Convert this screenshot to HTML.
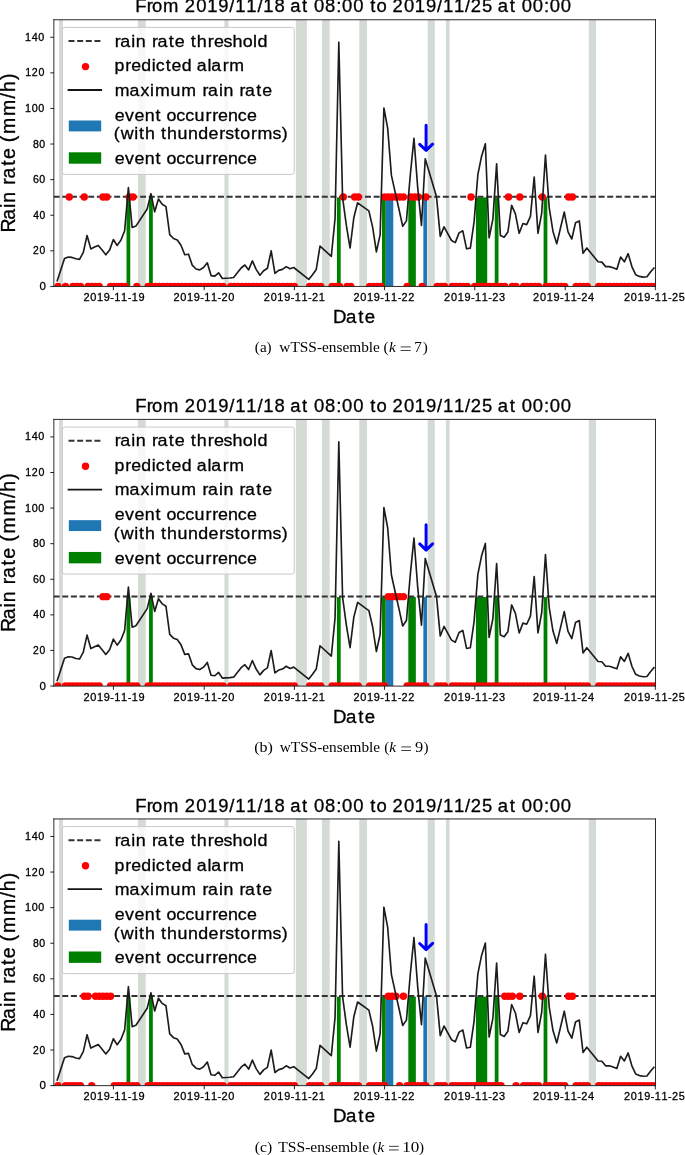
<!DOCTYPE html>
<html><head><meta charset="utf-8"><title>Rain rate figure</title>
<style>html,body{margin:0;padding:0;background:#fff;}svg{display:block;will-change:transform;}.s{stroke:#000;stroke-width:0.3px;}</style></head>
<body>
<svg width="685" height="1155" viewBox="0 0 685 1155">
<defs><clipPath id="ax"><rect x="53.85" y="19.75" width="601.65" height="266.7"/></clipPath></defs>
<g><rect width="685" height="1155" fill="#fff"/>
<g transform="translate(0,0)">
<text class="s" transform="scale(1.0090,1)" x="134.12 145.54 150.74 161.57 162.57 183.20 194.42 205.30 216.33 227.33 233.08 244.06 255.11 260.86 271.94 272.94 287.56 299.38 300.38 311.25 322.23 333.18 339.03 350.01 351.01 366.87 373.04 374.04 389.07 400.28 411.16 422.19 433.19 438.94 449.93 460.97 466.59 477.74 478.74 493.42 505.25 506.25 517.11 528.09 539.04 544.89 555.87" y="12.35" font-size="18.29" font-family="'Liberation Sans', sans-serif">From 2019/11/18 at 08:00 to 2019/11/25 at 00:00</text>
<g clip-path="url(#ax)">
<rect x="59" y="19.75" width="3.9" height="266.7" fill="#d4dbd4"/>
<rect x="137.9" y="19.75" width="7.8" height="266.7" fill="#d4dbd4"/>
<rect x="224.4" y="19.75" width="4.1" height="266.7" fill="#d4dbd4"/>
<rect x="295.8" y="19.75" width="11.1" height="266.7" fill="#d4dbd4"/>
<rect x="322" y="19.75" width="7.7" height="266.7" fill="#d4dbd4"/>
<rect x="359.3" y="19.75" width="7.7" height="266.7" fill="#d4dbd4"/>
<rect x="427.7" y="19.75" width="7.1" height="266.7" fill="#d4dbd4"/>
<rect x="445.9" y="19.75" width="3.7" height="266.7" fill="#d4dbd4"/>
<rect x="588.8" y="19.75" width="7.2" height="266.7" fill="#d4dbd4"/>
<rect x="126.51" y="197.42" width="3.76" height="88.98" fill="#008000"/>
<rect x="149.06" y="197.42" width="3.76" height="88.98" fill="#008000"/>
<rect x="336.93" y="197.42" width="3.76" height="88.98" fill="#008000"/>
<rect x="382.02" y="197.42" width="3.76" height="88.98" fill="#008000"/>
<rect x="408.32" y="197.42" width="7.51" height="88.98" fill="#008000"/>
<rect x="475.96" y="197.42" width="11.27" height="88.98" fill="#008000"/>
<rect x="494.75" y="197.42" width="3.76" height="88.98" fill="#008000"/>
<rect x="543.59" y="197.42" width="3.76" height="88.98" fill="#008000"/>
<rect x="385.78" y="197.42" width="7.51" height="88.98" fill="#1f77b4"/>
<rect x="423.35" y="197.42" width="3.76" height="88.98" fill="#1f77b4"/>
<line x1="53.6" y1="196.85" x2="655.5" y2="196.85" stroke="#333" stroke-width="2.0" stroke-dasharray="6 2.65"/>
<circle cx="57.97" cy="286.4" r="3.7" fill="#ff0000"/>
<circle cx="65.48" cy="286.4" r="3.7" fill="#ff0000"/>
<circle cx="69.24" cy="197" r="3.7" fill="#ff0000"/>
<circle cx="72.99" cy="286.4" r="3.7" fill="#ff0000"/>
<circle cx="76.75" cy="286.4" r="3.7" fill="#ff0000"/>
<circle cx="80.5" cy="286.4" r="3.7" fill="#ff0000"/>
<circle cx="84.26" cy="197" r="3.7" fill="#ff0000"/>
<circle cx="88.01" cy="286.4" r="3.7" fill="#ff0000"/>
<circle cx="91.77" cy="286.4" r="3.7" fill="#ff0000"/>
<circle cx="95.52" cy="286.4" r="3.7" fill="#ff0000"/>
<circle cx="99.27" cy="286.4" r="3.7" fill="#ff0000"/>
<circle cx="103.03" cy="197" r="3.7" fill="#ff0000"/>
<circle cx="106.78" cy="197" r="3.7" fill="#ff0000"/>
<circle cx="110.54" cy="286.4" r="3.7" fill="#ff0000"/>
<circle cx="114.29" cy="286.4" r="3.7" fill="#ff0000"/>
<circle cx="118.05" cy="286.4" r="3.7" fill="#ff0000"/>
<circle cx="121.8" cy="286.4" r="3.7" fill="#ff0000"/>
<circle cx="125.56" cy="286.4" r="3.7" fill="#ff0000"/>
<circle cx="129.31" cy="197" r="3.7" fill="#ff0000"/>
<circle cx="133.06" cy="197" r="3.7" fill="#ff0000"/>
<circle cx="136.82" cy="286.4" r="3.7" fill="#ff0000"/>
<circle cx="148.08" cy="286.4" r="3.7" fill="#ff0000"/>
<circle cx="151.84" cy="286.4" r="3.7" fill="#ff0000"/>
<circle cx="155.59" cy="286.4" r="3.7" fill="#ff0000"/>
<circle cx="159.35" cy="286.4" r="3.7" fill="#ff0000"/>
<circle cx="163.1" cy="286.4" r="3.7" fill="#ff0000"/>
<circle cx="166.86" cy="286.4" r="3.7" fill="#ff0000"/>
<circle cx="170.61" cy="286.4" r="3.7" fill="#ff0000"/>
<circle cx="174.36" cy="286.4" r="3.7" fill="#ff0000"/>
<circle cx="178.12" cy="286.4" r="3.7" fill="#ff0000"/>
<circle cx="181.87" cy="286.4" r="3.7" fill="#ff0000"/>
<circle cx="185.63" cy="286.4" r="3.7" fill="#ff0000"/>
<circle cx="189.38" cy="286.4" r="3.7" fill="#ff0000"/>
<circle cx="193.14" cy="286.4" r="3.7" fill="#ff0000"/>
<circle cx="196.89" cy="286.4" r="3.7" fill="#ff0000"/>
<circle cx="200.65" cy="286.4" r="3.7" fill="#ff0000"/>
<circle cx="204.4" cy="286.4" r="3.7" fill="#ff0000"/>
<circle cx="208.15" cy="286.4" r="3.7" fill="#ff0000"/>
<circle cx="211.91" cy="286.4" r="3.7" fill="#ff0000"/>
<circle cx="215.66" cy="286.4" r="3.7" fill="#ff0000"/>
<circle cx="219.42" cy="286.4" r="3.7" fill="#ff0000"/>
<circle cx="223.17" cy="286.4" r="3.7" fill="#ff0000"/>
<circle cx="230.68" cy="286.4" r="3.7" fill="#ff0000"/>
<circle cx="234.44" cy="286.4" r="3.7" fill="#ff0000"/>
<circle cx="238.19" cy="286.4" r="3.7" fill="#ff0000"/>
<circle cx="241.95" cy="286.4" r="3.7" fill="#ff0000"/>
<circle cx="245.7" cy="286.4" r="3.7" fill="#ff0000"/>
<circle cx="249.45" cy="286.4" r="3.7" fill="#ff0000"/>
<circle cx="253.21" cy="286.4" r="3.7" fill="#ff0000"/>
<circle cx="256.96" cy="286.4" r="3.7" fill="#ff0000"/>
<circle cx="260.72" cy="286.4" r="3.7" fill="#ff0000"/>
<circle cx="264.47" cy="286.4" r="3.7" fill="#ff0000"/>
<circle cx="268.23" cy="286.4" r="3.7" fill="#ff0000"/>
<circle cx="271.98" cy="286.4" r="3.7" fill="#ff0000"/>
<circle cx="275.74" cy="286.4" r="3.7" fill="#ff0000"/>
<circle cx="279.49" cy="286.4" r="3.7" fill="#ff0000"/>
<circle cx="283.24" cy="286.4" r="3.7" fill="#ff0000"/>
<circle cx="287" cy="286.4" r="3.7" fill="#ff0000"/>
<circle cx="290.75" cy="286.4" r="3.7" fill="#ff0000"/>
<circle cx="294.51" cy="286.4" r="3.7" fill="#ff0000"/>
<circle cx="309.53" cy="286.4" r="3.7" fill="#ff0000"/>
<circle cx="313.28" cy="286.4" r="3.7" fill="#ff0000"/>
<circle cx="317.03" cy="286.4" r="3.7" fill="#ff0000"/>
<circle cx="320.79" cy="286.4" r="3.7" fill="#ff0000"/>
<circle cx="332.05" cy="286.4" r="3.7" fill="#ff0000"/>
<circle cx="335.81" cy="286.4" r="3.7" fill="#ff0000"/>
<circle cx="339.56" cy="286.4" r="3.7" fill="#ff0000"/>
<circle cx="343.32" cy="197" r="3.7" fill="#ff0000"/>
<circle cx="347.07" cy="286.4" r="3.7" fill="#ff0000"/>
<circle cx="350.83" cy="286.4" r="3.7" fill="#ff0000"/>
<circle cx="354.58" cy="197" r="3.7" fill="#ff0000"/>
<circle cx="358.33" cy="197" r="3.7" fill="#ff0000"/>
<circle cx="369.6" cy="286.4" r="3.7" fill="#ff0000"/>
<circle cx="373.35" cy="286.4" r="3.7" fill="#ff0000"/>
<circle cx="377.11" cy="286.4" r="3.7" fill="#ff0000"/>
<circle cx="380.86" cy="286.4" r="3.7" fill="#ff0000"/>
<circle cx="384.62" cy="197" r="3.7" fill="#ff0000"/>
<circle cx="388.37" cy="197" r="3.7" fill="#ff0000"/>
<circle cx="392.12" cy="197" r="3.7" fill="#ff0000"/>
<circle cx="395.88" cy="197" r="3.7" fill="#ff0000"/>
<circle cx="399.63" cy="197" r="3.7" fill="#ff0000"/>
<circle cx="403.39" cy="197" r="3.7" fill="#ff0000"/>
<circle cx="407.14" cy="286.4" r="3.7" fill="#ff0000"/>
<circle cx="410.9" cy="197" r="3.7" fill="#ff0000"/>
<circle cx="414.65" cy="197" r="3.7" fill="#ff0000"/>
<circle cx="418.41" cy="197" r="3.7" fill="#ff0000"/>
<circle cx="422.16" cy="286.4" r="3.7" fill="#ff0000"/>
<circle cx="425.92" cy="197" r="3.7" fill="#ff0000"/>
<circle cx="437.18" cy="286.4" r="3.7" fill="#ff0000"/>
<circle cx="440.93" cy="286.4" r="3.7" fill="#ff0000"/>
<circle cx="444.69" cy="286.4" r="3.7" fill="#ff0000"/>
<circle cx="452.2" cy="286.4" r="3.7" fill="#ff0000"/>
<circle cx="455.95" cy="286.4" r="3.7" fill="#ff0000"/>
<circle cx="459.71" cy="286.4" r="3.7" fill="#ff0000"/>
<circle cx="463.46" cy="286.4" r="3.7" fill="#ff0000"/>
<circle cx="467.22" cy="286.4" r="3.7" fill="#ff0000"/>
<circle cx="470.97" cy="197" r="3.7" fill="#ff0000"/>
<circle cx="474.72" cy="286.4" r="3.7" fill="#ff0000"/>
<circle cx="478.48" cy="286.4" r="3.7" fill="#ff0000"/>
<circle cx="482.23" cy="286.4" r="3.7" fill="#ff0000"/>
<circle cx="485.99" cy="286.4" r="3.7" fill="#ff0000"/>
<circle cx="489.74" cy="286.4" r="3.7" fill="#ff0000"/>
<circle cx="493.5" cy="286.4" r="3.7" fill="#ff0000"/>
<circle cx="497.25" cy="286.4" r="3.7" fill="#ff0000"/>
<circle cx="501.01" cy="286.4" r="3.7" fill="#ff0000"/>
<circle cx="504.76" cy="286.4" r="3.7" fill="#ff0000"/>
<circle cx="508.51" cy="197" r="3.7" fill="#ff0000"/>
<circle cx="512.27" cy="286.4" r="3.7" fill="#ff0000"/>
<circle cx="516.02" cy="286.4" r="3.7" fill="#ff0000"/>
<circle cx="519.78" cy="197" r="3.7" fill="#ff0000"/>
<circle cx="523.53" cy="286.4" r="3.7" fill="#ff0000"/>
<circle cx="527.29" cy="286.4" r="3.7" fill="#ff0000"/>
<circle cx="531.04" cy="286.4" r="3.7" fill="#ff0000"/>
<circle cx="534.8" cy="286.4" r="3.7" fill="#ff0000"/>
<circle cx="538.55" cy="286.4" r="3.7" fill="#ff0000"/>
<circle cx="542.31" cy="197" r="3.7" fill="#ff0000"/>
<circle cx="546.06" cy="286.4" r="3.7" fill="#ff0000"/>
<circle cx="549.81" cy="286.4" r="3.7" fill="#ff0000"/>
<circle cx="553.57" cy="286.4" r="3.7" fill="#ff0000"/>
<circle cx="557.32" cy="286.4" r="3.7" fill="#ff0000"/>
<circle cx="561.08" cy="286.4" r="3.7" fill="#ff0000"/>
<circle cx="564.83" cy="286.4" r="3.7" fill="#ff0000"/>
<circle cx="568.59" cy="197" r="3.7" fill="#ff0000"/>
<circle cx="572.34" cy="197" r="3.7" fill="#ff0000"/>
<circle cx="576.1" cy="286.4" r="3.7" fill="#ff0000"/>
<circle cx="579.85" cy="286.4" r="3.7" fill="#ff0000"/>
<circle cx="583.6" cy="286.4" r="3.7" fill="#ff0000"/>
<circle cx="587.36" cy="286.4" r="3.7" fill="#ff0000"/>
<circle cx="598.62" cy="286.4" r="3.7" fill="#ff0000"/>
<circle cx="602.38" cy="286.4" r="3.7" fill="#ff0000"/>
<circle cx="606.13" cy="286.4" r="3.7" fill="#ff0000"/>
<circle cx="609.89" cy="286.4" r="3.7" fill="#ff0000"/>
<circle cx="613.64" cy="286.4" r="3.7" fill="#ff0000"/>
<circle cx="617.4" cy="286.4" r="3.7" fill="#ff0000"/>
<circle cx="621.15" cy="286.4" r="3.7" fill="#ff0000"/>
<circle cx="624.9" cy="286.4" r="3.7" fill="#ff0000"/>
<circle cx="628.66" cy="286.4" r="3.7" fill="#ff0000"/>
<circle cx="632.41" cy="286.4" r="3.7" fill="#ff0000"/>
<circle cx="636.17" cy="286.4" r="3.7" fill="#ff0000"/>
<circle cx="639.92" cy="286.4" r="3.7" fill="#ff0000"/>
<circle cx="643.68" cy="286.4" r="3.7" fill="#ff0000"/>
<circle cx="647.43" cy="286.4" r="3.7" fill="#ff0000"/>
<circle cx="651.19" cy="286.4" r="3.7" fill="#ff0000"/>
<circle cx="654.94" cy="286.4" r="3.7" fill="#ff0000"/>
<polyline points="57,281.6 64.51,258.6 68.27,257.1 72.03,257.4 75.78,258.8 79.54,259.4 83.3,252.4 87.06,235.5 90.81,248.9 94.57,247.1 98.33,245.4 102.09,250.1 105.84,254.8 109.6,250.1 113.36,239.5 117.12,245.5 120.88,240.3 124.63,230.8 128.39,187.5 132.15,227.5 135.91,226.1 147.18,209 150.94,193.7 154.69,211.8 158.45,199 162.21,204.2 165.97,206.6 169.72,234.7 173.48,238.5 177.24,239.9 181,245.2 184.75,254.7 188.51,254.2 192.27,265.2 196.03,269 199.78,269.9 203.54,267.5 207.3,262.8 211.06,275.6 214.81,276.1 218.57,272.8 222.33,278.5 229.84,278 233.6,277.5 237.36,272.8 241.12,268 244.87,265 248.63,269.9 252.39,260.9 256.14,269.4 259.9,275.2 263.66,270.7 267.42,268.2 271.18,250.9 274.93,273.3 278.69,270.4 282.45,269.4 286.2,266.6 289.96,268.8 293.72,267.5 308.75,279.4 312.51,274.7 316.26,269.4 320.02,246.1 331.3,256.4 335.05,218.5 338.81,42.2 342.57,197.5 346.32,225.2 350.08,248 353.84,217.5 357.6,202.8 368.87,210.9 372.63,227.1 376.38,251.9 380.14,234.6 383.9,108 387.66,128.1 391.42,175.4 395.17,192.4 398.93,209 402.69,226.3 406.44,220.9 410.2,176 413.96,138.4 417.72,187.9 421.47,225.5 425.23,158.8 436.5,196.8 440.26,236.4 444.02,226.8 451.53,240.5 455.29,242.6 459.05,232.9 462.81,230.8 466.56,248.8 470.32,248.1 474.08,221.9 477.84,174.7 481.59,156.2 485.35,143.8 489.11,237.8 492.87,219.1 496.62,163.9 500.38,235.4 504.14,237.2 507.9,232 511.65,205.3 515.41,213.8 519.17,233.3 522.93,223.5 526.68,224.6 530.44,216.4 534.2,177 537.96,233.3 541.71,213.1 545.47,155 549.23,207.9 552.99,231.4 556.75,243.7 560.5,228 564.26,212 568.02,231.8 571.77,239 575.53,222.8 579.29,220.9 583.05,253.3 586.8,248 598.08,261.8 601.84,262.1 605.59,266.6 609.35,266.6 613.11,267.8 616.87,269.2 620.62,257.1 624.38,261.8 628.14,253.7 631.89,266.6 635.65,274.7 639.41,276.4 643.17,277.1 646.92,276.8 650.68,271.8 654.44,267.5" fill="none" stroke="#1c1c1c" stroke-width="1.65" stroke-linejoin="round"/>
<path d="M426.1,125.2 V150 M419.7,144.3 L426.1,150.4 L432.6,144.2" fill="none" stroke="#0000ff" stroke-width="3.0" stroke-linecap="round" stroke-linejoin="round"/>
</g>
<path d="M53.85,19.25 V286.95 M655.5,19.25 V286.95 M53.35,19.75 H656 M53.35,286.45 H656" fill="none" stroke="#2b2b2b" stroke-width="1.0"/>
<line x1="50.3" y1="286.4" x2="53.85" y2="286.4" stroke="#000" stroke-width="0.87"/>
<text class="s" transform="scale(1.0041,1)" x="39.29" y="289.95" font-size="11.46" font-family="'Liberation Sans', sans-serif">0</text>
<line x1="50.3" y1="250.81" x2="53.85" y2="250.81" stroke="#000" stroke-width="0.87"/>
<text class="s" transform="scale(0.9862,1)" x="33.40 39.97" y="254.36" font-size="10.47" font-family="'Liberation Sans', sans-serif">20</text>
<line x1="50.3" y1="215.22" x2="53.85" y2="215.22" stroke="#000" stroke-width="0.87"/>
<text class="s" transform="scale(1.0041,1)" x="33.13 39.32" y="218.77" font-size="10.25" font-family="'Liberation Sans', sans-serif">40</text>
<line x1="50.3" y1="179.62" x2="53.85" y2="179.62" stroke="#000" stroke-width="0.87"/>
<text class="s" transform="scale(1.0213,1)" x="32.31 38.51" y="183.17" font-size="10.44" font-family="'Liberation Sans', sans-serif">60</text>
<line x1="50.3" y1="144.03" x2="53.85" y2="144.03" stroke="#000" stroke-width="0.87"/>
<text class="s" transform="scale(1.0094,1)" x="32.75 39.01" y="147.58" font-size="10.42" font-family="'Liberation Sans', sans-serif">80</text>
<line x1="50.3" y1="108.44" x2="53.85" y2="108.44" stroke="#000" stroke-width="0.87"/>
<text class="s" transform="scale(0.9900,1)" x="25.36 32.09 38.77" y="111.99" font-size="10.91" font-family="'Liberation Sans', sans-serif">100</text>
<line x1="50.3" y1="72.85" x2="53.85" y2="72.85" stroke="#000" stroke-width="0.87"/>
<text class="s" transform="scale(0.9776,1)" x="25.72 32.40 39.30" y="76.40" font-size="10.91" font-family="'Liberation Sans', sans-serif">120</text>
<line x1="50.3" y1="37.26" x2="53.85" y2="37.26" stroke="#000" stroke-width="0.87"/>
<text class="s" transform="scale(0.9903,1)" x="25.35 32.08 38.75" y="40.81" font-size="10.91" font-family="'Liberation Sans', sans-serif">140</text>
<line x1="113.4" y1="286.45" x2="113.4" y2="290.2" stroke="#000" stroke-width="0.87"/>
<text class="s" transform="scale(0.9374,1)" x="89.06 96.40 103.52 110.74 117.72 121.98 129.16 136.17 140.43 147.64" y="301.10" font-size="11.75" font-family="'Liberation Sans', sans-serif">2019-11-19</text>
<line x1="204.2" y1="286.45" x2="204.2" y2="290.2" stroke="#000" stroke-width="0.87"/>
<text class="s" transform="scale(0.9347,1)" x="185.52 192.87 200.02 207.26 214.26 218.53 225.74 232.76 236.94 244.30" y="301.10" font-size="11.75" font-family="'Liberation Sans', sans-serif">2019-11-20</text>
<line x1="294.4" y1="286.45" x2="294.4" y2="290.2" stroke="#000" stroke-width="0.87"/>
<text class="s" transform="scale(0.9300,1)" x="283.68 291.07 298.26 305.53 312.56 316.86 324.11 331.16 335.37 342.70" y="301.10" font-size="11.75" font-family="'Liberation Sans', sans-serif">2019-11-21</text>
<line x1="384.6" y1="286.45" x2="384.6" y2="290.2" stroke="#000" stroke-width="0.87"/>
<text class="s" transform="scale(0.9307,1)" x="379.82 387.21 394.39 401.66 408.68 412.98 420.22 427.26 431.47 438.71" y="301.10" font-size="11.75" font-family="'Liberation Sans', sans-serif">2019-11-22</text>
<line x1="474.8" y1="286.45" x2="474.8" y2="290.2" stroke="#000" stroke-width="0.87"/>
<text class="s" transform="scale(0.9303,1)" x="477.40 484.79 491.97 499.24 506.26 510.57 517.81 524.86 529.07 536.48" y="301.10" font-size="11.75" font-family="'Liberation Sans', sans-serif">2019-11-23</text>
<line x1="565.2" y1="286.45" x2="565.2" y2="290.2" stroke="#000" stroke-width="0.87"/>
<text class="s" transform="scale(0.9348,1)" x="570.30 577.66 584.81 592.04 599.04 603.31 610.52 617.54 621.73 629.08" y="301.10" font-size="11.75" font-family="'Liberation Sans', sans-serif">2019-11-24</text>
<line x1="655.3" y1="286.45" x2="655.3" y2="290.2" stroke="#000" stroke-width="0.87"/>
<text class="s" transform="scale(0.9285,1)" x="671.99 679.40 686.60 693.88 700.91 705.23 712.48 719.54 723.76 731.13" y="301.10" font-size="11.75" font-family="'Liberation Sans', sans-serif">2019-11-25</text>
<text class="s" transform="scale(1.0005,1)" x="332.81 345.95 358.10 364.53" y="323.00" font-size="18.67" font-family="'Liberation Sans', sans-serif">Date</text>
<text class="s" transform="translate(14.8,230.3) rotate(-90) scale(1.0037,1)" x="-2.13 10.55 22.31 27.50 28.50 45.48 51.71 64.32 70.99 71.99 87.77 96.03 113.99 131.43 137.69 149.78" y="0.00" font-size="19.43" font-family="'Liberation Sans', sans-serif">Rain rate (mm/h)</text>
<rect x="62.4" y="27.4" width="231.8" height="147" rx="2" fill="#fff" fill-opacity="0.8" stroke="#c9c9c9" stroke-width="1"/>
<line x1="68.5" y1="41.1" x2="100.5" y2="41.1" stroke="#333" stroke-width="2.0" stroke-dasharray="6 2.65"/>
<circle cx="85.5" cy="66.6" r="3.7" fill="#ff0000"/>
<line x1="67.6" y1="90.0" x2="102.1" y2="90.0" stroke="#151515" stroke-width="1.8"/>
<rect x="68.8" y="120.5" width="32.4" height="10.9" fill="#1f77b4"/>
<rect x="68.8" y="152.3" width="32.4" height="11.4" fill="#008000"/>
<text class="s" transform="scale(1.0338,1)" x="110.96 116.31 126.94 131.36 132.36 146.99 152.33 163.35 169.06 170.06 184.53 190.37 200.95 206.95 216.25 224.89 234.84 244.85 249.16" y="46.60" font-size="17.35" font-family="'Liberation Sans', sans-serif">rain rate threshold</text>
<text class="s" transform="scale(1.0267,1)" x="111.42 121.92 127.95 137.48 147.76 151.79 161.40 167.14 177.02 178.02 191.57 202.20 205.83 216.87 223.39" y="71.50" font-size="17.26" font-family="'Liberation Sans', sans-serif">predicted alarm</text>
<text class="s" transform="scale(1.0310,1)" x="111.21 125.55 136.19 145.54 150.27 165.36 175.84 176.84 196.46 201.78 212.35 216.75 217.75 232.30 237.61 248.57 254.26" y="95.80" font-size="17.21" font-family="'Liberation Sans', sans-serif">maximum rain rate</text>
<text class="s" transform="scale(1.0374,1)" x="110.57 120.54 129.60 139.45 149.86 150.86 160.44 169.89 178.56 187.57 198.05 204.53 210.17 219.68 229.27 238.20" y="120.60" font-size="17.18" font-family="'Liberation Sans', sans-serif">event occurrence</text>
<text class="s" transform="scale(1.0354,1)" x="109.98 116.62 129.60 134.37 140.14 141.14 155.62 161.40 171.38 181.47 191.39 201.39 211.69 217.45 226.42 232.02 242.31 248.72 263.21 272.17" y="139.40" font-size="17.20" font-family="'Liberation Sans', sans-serif">(with thunderstorms)</text>
<text class="s" transform="scale(1.0374,1)" x="110.57 120.54 129.60 139.45 149.86 150.86 160.44 169.89 178.56 187.57 198.05 204.53 210.17 219.68 229.27 238.20" y="164.00" font-size="17.18" font-family="'Liberation Sans', sans-serif">event occurrence</text>
</g>
<text x="254.83" y="352.45" font-size="13.6" textLength="16.83" lengthAdjust="spacingAndGlyphs" font-family="'Liberation Serif', serif">(a)</text>
<text x="279.39" y="352.45" font-size="13.6" textLength="100.55" lengthAdjust="spacingAndGlyphs" font-family="'Liberation Serif', serif">wTSS-ensemble</text>
<text x="383.53" y="352.45" font-size="13.6" textLength="5.06" lengthAdjust="spacingAndGlyphs" font-family="'Liberation Serif', serif">(</text>
<text x="388.96" y="352.45" font-size="13.6" textLength="6.82" lengthAdjust="spacingAndGlyphs" font-family="'Liberation Serif', serif" font-style="italic">k</text>
<line x1="400.59999999999997" x2="410.7" y1="346.9" y2="346.9" stroke="#000" stroke-width="0.75"/>
<line x1="400.59999999999997" x2="410.7" y1="350.5" y2="350.5" stroke="#000" stroke-width="0.75"/>
<text x="414.31" y="352.45" font-size="13.6" textLength="7.53" lengthAdjust="spacingAndGlyphs" font-family="'Liberation Serif', serif">7</text>
<text x="422.71" y="352.45" font-size="13.6" textLength="5.06" lengthAdjust="spacingAndGlyphs" font-family="'Liberation Serif', serif">)</text>
<g transform="translate(0,399.65)">
<text class="s" transform="scale(1.0090,1)" x="134.12 145.54 150.74 161.57 162.57 183.20 194.42 205.30 216.33 227.33 233.08 244.06 255.11 260.86 271.94 272.94 287.56 299.38 300.38 311.25 322.23 333.18 339.03 350.01 351.01 366.87 373.04 374.04 389.07 400.28 411.16 422.19 433.19 438.94 449.93 460.97 466.59 477.74 478.74 493.42 505.25 506.25 517.11 528.09 539.04 544.89 555.87" y="12.35" font-size="18.29" font-family="'Liberation Sans', sans-serif">From 2019/11/18 at 08:00 to 2019/11/25 at 00:00</text>
<g clip-path="url(#ax)">
<rect x="59" y="19.75" width="3.9" height="266.7" fill="#d4dbd4"/>
<rect x="137.9" y="19.75" width="7.8" height="266.7" fill="#d4dbd4"/>
<rect x="224.4" y="19.75" width="4.1" height="266.7" fill="#d4dbd4"/>
<rect x="295.8" y="19.75" width="11.1" height="266.7" fill="#d4dbd4"/>
<rect x="322" y="19.75" width="7.7" height="266.7" fill="#d4dbd4"/>
<rect x="359.3" y="19.75" width="7.7" height="266.7" fill="#d4dbd4"/>
<rect x="427.7" y="19.75" width="7.1" height="266.7" fill="#d4dbd4"/>
<rect x="445.9" y="19.75" width="3.7" height="266.7" fill="#d4dbd4"/>
<rect x="588.8" y="19.75" width="7.2" height="266.7" fill="#d4dbd4"/>
<rect x="126.51" y="197.42" width="3.76" height="88.98" fill="#008000"/>
<rect x="149.06" y="197.42" width="3.76" height="88.98" fill="#008000"/>
<rect x="336.93" y="197.42" width="3.76" height="88.98" fill="#008000"/>
<rect x="382.02" y="197.42" width="3.76" height="88.98" fill="#008000"/>
<rect x="408.32" y="197.42" width="7.51" height="88.98" fill="#008000"/>
<rect x="475.96" y="197.42" width="11.27" height="88.98" fill="#008000"/>
<rect x="494.75" y="197.42" width="3.76" height="88.98" fill="#008000"/>
<rect x="543.59" y="197.42" width="3.76" height="88.98" fill="#008000"/>
<rect x="385.78" y="197.42" width="7.51" height="88.98" fill="#1f77b4"/>
<rect x="423.35" y="197.42" width="3.76" height="88.98" fill="#1f77b4"/>
<line x1="53.6" y1="196.85" x2="655.5" y2="196.85" stroke="#333" stroke-width="2.0" stroke-dasharray="6 2.65"/>
<circle cx="57.97" cy="286.4" r="3.7" fill="#ff0000"/>
<circle cx="65.48" cy="286.4" r="3.7" fill="#ff0000"/>
<circle cx="69.24" cy="286.4" r="3.7" fill="#ff0000"/>
<circle cx="72.99" cy="286.4" r="3.7" fill="#ff0000"/>
<circle cx="76.75" cy="286.4" r="3.7" fill="#ff0000"/>
<circle cx="80.5" cy="286.4" r="3.7" fill="#ff0000"/>
<circle cx="84.26" cy="286.4" r="3.7" fill="#ff0000"/>
<circle cx="88.01" cy="286.4" r="3.7" fill="#ff0000"/>
<circle cx="91.77" cy="286.4" r="3.7" fill="#ff0000"/>
<circle cx="95.52" cy="286.4" r="3.7" fill="#ff0000"/>
<circle cx="99.27" cy="286.4" r="3.7" fill="#ff0000"/>
<circle cx="103.03" cy="197" r="3.7" fill="#ff0000"/>
<circle cx="106.78" cy="197" r="3.7" fill="#ff0000"/>
<circle cx="110.54" cy="286.4" r="3.7" fill="#ff0000"/>
<circle cx="114.29" cy="286.4" r="3.7" fill="#ff0000"/>
<circle cx="118.05" cy="286.4" r="3.7" fill="#ff0000"/>
<circle cx="121.8" cy="286.4" r="3.7" fill="#ff0000"/>
<circle cx="125.56" cy="286.4" r="3.7" fill="#ff0000"/>
<circle cx="129.31" cy="286.4" r="3.7" fill="#ff0000"/>
<circle cx="133.06" cy="286.4" r="3.7" fill="#ff0000"/>
<circle cx="136.82" cy="286.4" r="3.7" fill="#ff0000"/>
<circle cx="148.08" cy="286.4" r="3.7" fill="#ff0000"/>
<circle cx="151.84" cy="286.4" r="3.7" fill="#ff0000"/>
<circle cx="155.59" cy="286.4" r="3.7" fill="#ff0000"/>
<circle cx="159.35" cy="286.4" r="3.7" fill="#ff0000"/>
<circle cx="163.1" cy="286.4" r="3.7" fill="#ff0000"/>
<circle cx="166.86" cy="286.4" r="3.7" fill="#ff0000"/>
<circle cx="170.61" cy="286.4" r="3.7" fill="#ff0000"/>
<circle cx="174.36" cy="286.4" r="3.7" fill="#ff0000"/>
<circle cx="178.12" cy="286.4" r="3.7" fill="#ff0000"/>
<circle cx="181.87" cy="286.4" r="3.7" fill="#ff0000"/>
<circle cx="185.63" cy="286.4" r="3.7" fill="#ff0000"/>
<circle cx="189.38" cy="286.4" r="3.7" fill="#ff0000"/>
<circle cx="193.14" cy="286.4" r="3.7" fill="#ff0000"/>
<circle cx="196.89" cy="286.4" r="3.7" fill="#ff0000"/>
<circle cx="200.65" cy="286.4" r="3.7" fill="#ff0000"/>
<circle cx="204.4" cy="286.4" r="3.7" fill="#ff0000"/>
<circle cx="208.15" cy="286.4" r="3.7" fill="#ff0000"/>
<circle cx="211.91" cy="286.4" r="3.7" fill="#ff0000"/>
<circle cx="215.66" cy="286.4" r="3.7" fill="#ff0000"/>
<circle cx="219.42" cy="286.4" r="3.7" fill="#ff0000"/>
<circle cx="223.17" cy="286.4" r="3.7" fill="#ff0000"/>
<circle cx="230.68" cy="286.4" r="3.7" fill="#ff0000"/>
<circle cx="234.44" cy="286.4" r="3.7" fill="#ff0000"/>
<circle cx="238.19" cy="286.4" r="3.7" fill="#ff0000"/>
<circle cx="241.95" cy="286.4" r="3.7" fill="#ff0000"/>
<circle cx="245.7" cy="286.4" r="3.7" fill="#ff0000"/>
<circle cx="249.45" cy="286.4" r="3.7" fill="#ff0000"/>
<circle cx="253.21" cy="286.4" r="3.7" fill="#ff0000"/>
<circle cx="256.96" cy="286.4" r="3.7" fill="#ff0000"/>
<circle cx="260.72" cy="286.4" r="3.7" fill="#ff0000"/>
<circle cx="264.47" cy="286.4" r="3.7" fill="#ff0000"/>
<circle cx="268.23" cy="286.4" r="3.7" fill="#ff0000"/>
<circle cx="271.98" cy="286.4" r="3.7" fill="#ff0000"/>
<circle cx="275.74" cy="286.4" r="3.7" fill="#ff0000"/>
<circle cx="279.49" cy="286.4" r="3.7" fill="#ff0000"/>
<circle cx="283.24" cy="286.4" r="3.7" fill="#ff0000"/>
<circle cx="287" cy="286.4" r="3.7" fill="#ff0000"/>
<circle cx="290.75" cy="286.4" r="3.7" fill="#ff0000"/>
<circle cx="294.51" cy="286.4" r="3.7" fill="#ff0000"/>
<circle cx="309.53" cy="286.4" r="3.7" fill="#ff0000"/>
<circle cx="313.28" cy="286.4" r="3.7" fill="#ff0000"/>
<circle cx="317.03" cy="286.4" r="3.7" fill="#ff0000"/>
<circle cx="320.79" cy="286.4" r="3.7" fill="#ff0000"/>
<circle cx="332.05" cy="286.4" r="3.7" fill="#ff0000"/>
<circle cx="335.81" cy="286.4" r="3.7" fill="#ff0000"/>
<circle cx="339.56" cy="286.4" r="3.7" fill="#ff0000"/>
<circle cx="343.32" cy="286.4" r="3.7" fill="#ff0000"/>
<circle cx="347.07" cy="286.4" r="3.7" fill="#ff0000"/>
<circle cx="350.83" cy="286.4" r="3.7" fill="#ff0000"/>
<circle cx="354.58" cy="286.4" r="3.7" fill="#ff0000"/>
<circle cx="358.33" cy="286.4" r="3.7" fill="#ff0000"/>
<circle cx="369.6" cy="286.4" r="3.7" fill="#ff0000"/>
<circle cx="373.35" cy="286.4" r="3.7" fill="#ff0000"/>
<circle cx="377.11" cy="286.4" r="3.7" fill="#ff0000"/>
<circle cx="380.86" cy="286.4" r="3.7" fill="#ff0000"/>
<circle cx="384.62" cy="286.4" r="3.7" fill="#ff0000"/>
<circle cx="388.37" cy="197" r="3.7" fill="#ff0000"/>
<circle cx="392.12" cy="197" r="3.7" fill="#ff0000"/>
<circle cx="395.88" cy="197" r="3.7" fill="#ff0000"/>
<circle cx="399.63" cy="197" r="3.7" fill="#ff0000"/>
<circle cx="403.39" cy="197" r="3.7" fill="#ff0000"/>
<circle cx="407.14" cy="286.4" r="3.7" fill="#ff0000"/>
<circle cx="410.9" cy="286.4" r="3.7" fill="#ff0000"/>
<circle cx="414.65" cy="286.4" r="3.7" fill="#ff0000"/>
<circle cx="418.41" cy="286.4" r="3.7" fill="#ff0000"/>
<circle cx="422.16" cy="286.4" r="3.7" fill="#ff0000"/>
<circle cx="425.92" cy="286.4" r="3.7" fill="#ff0000"/>
<circle cx="437.18" cy="286.4" r="3.7" fill="#ff0000"/>
<circle cx="440.93" cy="286.4" r="3.7" fill="#ff0000"/>
<circle cx="444.69" cy="286.4" r="3.7" fill="#ff0000"/>
<circle cx="452.2" cy="286.4" r="3.7" fill="#ff0000"/>
<circle cx="455.95" cy="286.4" r="3.7" fill="#ff0000"/>
<circle cx="459.71" cy="286.4" r="3.7" fill="#ff0000"/>
<circle cx="463.46" cy="286.4" r="3.7" fill="#ff0000"/>
<circle cx="467.22" cy="286.4" r="3.7" fill="#ff0000"/>
<circle cx="470.97" cy="286.4" r="3.7" fill="#ff0000"/>
<circle cx="474.72" cy="286.4" r="3.7" fill="#ff0000"/>
<circle cx="478.48" cy="286.4" r="3.7" fill="#ff0000"/>
<circle cx="482.23" cy="286.4" r="3.7" fill="#ff0000"/>
<circle cx="485.99" cy="286.4" r="3.7" fill="#ff0000"/>
<circle cx="489.74" cy="286.4" r="3.7" fill="#ff0000"/>
<circle cx="493.5" cy="286.4" r="3.7" fill="#ff0000"/>
<circle cx="497.25" cy="286.4" r="3.7" fill="#ff0000"/>
<circle cx="501.01" cy="286.4" r="3.7" fill="#ff0000"/>
<circle cx="504.76" cy="286.4" r="3.7" fill="#ff0000"/>
<circle cx="508.51" cy="286.4" r="3.7" fill="#ff0000"/>
<circle cx="512.27" cy="286.4" r="3.7" fill="#ff0000"/>
<circle cx="516.02" cy="286.4" r="3.7" fill="#ff0000"/>
<circle cx="519.78" cy="286.4" r="3.7" fill="#ff0000"/>
<circle cx="523.53" cy="286.4" r="3.7" fill="#ff0000"/>
<circle cx="527.29" cy="286.4" r="3.7" fill="#ff0000"/>
<circle cx="531.04" cy="286.4" r="3.7" fill="#ff0000"/>
<circle cx="534.8" cy="286.4" r="3.7" fill="#ff0000"/>
<circle cx="538.55" cy="286.4" r="3.7" fill="#ff0000"/>
<circle cx="542.31" cy="286.4" r="3.7" fill="#ff0000"/>
<circle cx="546.06" cy="286.4" r="3.7" fill="#ff0000"/>
<circle cx="549.81" cy="286.4" r="3.7" fill="#ff0000"/>
<circle cx="553.57" cy="286.4" r="3.7" fill="#ff0000"/>
<circle cx="557.32" cy="286.4" r="3.7" fill="#ff0000"/>
<circle cx="561.08" cy="286.4" r="3.7" fill="#ff0000"/>
<circle cx="564.83" cy="286.4" r="3.7" fill="#ff0000"/>
<circle cx="568.59" cy="286.4" r="3.7" fill="#ff0000"/>
<circle cx="572.34" cy="286.4" r="3.7" fill="#ff0000"/>
<circle cx="576.1" cy="286.4" r="3.7" fill="#ff0000"/>
<circle cx="579.85" cy="286.4" r="3.7" fill="#ff0000"/>
<circle cx="583.6" cy="286.4" r="3.7" fill="#ff0000"/>
<circle cx="587.36" cy="286.4" r="3.7" fill="#ff0000"/>
<circle cx="598.62" cy="286.4" r="3.7" fill="#ff0000"/>
<circle cx="602.38" cy="286.4" r="3.7" fill="#ff0000"/>
<circle cx="606.13" cy="286.4" r="3.7" fill="#ff0000"/>
<circle cx="609.89" cy="286.4" r="3.7" fill="#ff0000"/>
<circle cx="613.64" cy="286.4" r="3.7" fill="#ff0000"/>
<circle cx="617.4" cy="286.4" r="3.7" fill="#ff0000"/>
<circle cx="621.15" cy="286.4" r="3.7" fill="#ff0000"/>
<circle cx="624.9" cy="286.4" r="3.7" fill="#ff0000"/>
<circle cx="628.66" cy="286.4" r="3.7" fill="#ff0000"/>
<circle cx="632.41" cy="286.4" r="3.7" fill="#ff0000"/>
<circle cx="636.17" cy="286.4" r="3.7" fill="#ff0000"/>
<circle cx="639.92" cy="286.4" r="3.7" fill="#ff0000"/>
<circle cx="643.68" cy="286.4" r="3.7" fill="#ff0000"/>
<circle cx="647.43" cy="286.4" r="3.7" fill="#ff0000"/>
<circle cx="651.19" cy="286.4" r="3.7" fill="#ff0000"/>
<circle cx="654.94" cy="286.4" r="3.7" fill="#ff0000"/>
<polyline points="57,281.6 64.51,258.6 68.27,257.1 72.03,257.4 75.78,258.8 79.54,259.4 83.3,252.4 87.06,235.5 90.81,248.9 94.57,247.1 98.33,245.4 102.09,250.1 105.84,254.8 109.6,250.1 113.36,239.5 117.12,245.5 120.88,240.3 124.63,230.8 128.39,187.5 132.15,227.5 135.91,226.1 147.18,209 150.94,193.7 154.69,211.8 158.45,199 162.21,204.2 165.97,206.6 169.72,234.7 173.48,238.5 177.24,239.9 181,245.2 184.75,254.7 188.51,254.2 192.27,265.2 196.03,269 199.78,269.9 203.54,267.5 207.3,262.8 211.06,275.6 214.81,276.1 218.57,272.8 222.33,278.5 229.84,278 233.6,277.5 237.36,272.8 241.12,268 244.87,265 248.63,269.9 252.39,260.9 256.14,269.4 259.9,275.2 263.66,270.7 267.42,268.2 271.18,250.9 274.93,273.3 278.69,270.4 282.45,269.4 286.2,266.6 289.96,268.8 293.72,267.5 308.75,279.4 312.51,274.7 316.26,269.4 320.02,246.1 331.3,256.4 335.05,218.5 338.81,42.2 342.57,197.5 346.32,225.2 350.08,248 353.84,217.5 357.6,202.8 368.87,210.9 372.63,227.1 376.38,251.9 380.14,234.6 383.9,108 387.66,128.1 391.42,175.4 395.17,192.4 398.93,209 402.69,226.3 406.44,220.9 410.2,176 413.96,138.4 417.72,187.9 421.47,225.5 425.23,158.8 436.5,196.8 440.26,236.4 444.02,226.8 451.53,240.5 455.29,242.6 459.05,232.9 462.81,230.8 466.56,248.8 470.32,248.1 474.08,221.9 477.84,174.7 481.59,156.2 485.35,143.8 489.11,237.8 492.87,219.1 496.62,163.9 500.38,235.4 504.14,237.2 507.9,232 511.65,205.3 515.41,213.8 519.17,233.3 522.93,223.5 526.68,224.6 530.44,216.4 534.2,177 537.96,233.3 541.71,213.1 545.47,155 549.23,207.9 552.99,231.4 556.75,243.7 560.5,228 564.26,212 568.02,231.8 571.77,239 575.53,222.8 579.29,220.9 583.05,253.3 586.8,248 598.08,261.8 601.84,262.1 605.59,266.6 609.35,266.6 613.11,267.8 616.87,269.2 620.62,257.1 624.38,261.8 628.14,253.7 631.89,266.6 635.65,274.7 639.41,276.4 643.17,277.1 646.92,276.8 650.68,271.8 654.44,267.5" fill="none" stroke="#1c1c1c" stroke-width="1.65" stroke-linejoin="round"/>
<path d="M426.1,125.2 V150 M419.7,144.3 L426.1,150.4 L432.6,144.2" fill="none" stroke="#0000ff" stroke-width="3.0" stroke-linecap="round" stroke-linejoin="round"/>
</g>
<path d="M53.85,19.25 V286.95 M655.5,19.25 V286.95 M53.35,19.75 H656 M53.35,286.45 H656" fill="none" stroke="#2b2b2b" stroke-width="1.0"/>
<line x1="50.3" y1="286.4" x2="53.85" y2="286.4" stroke="#000" stroke-width="0.87"/>
<text class="s" transform="scale(1.0041,1)" x="39.29" y="289.95" font-size="11.46" font-family="'Liberation Sans', sans-serif">0</text>
<line x1="50.3" y1="250.81" x2="53.85" y2="250.81" stroke="#000" stroke-width="0.87"/>
<text class="s" transform="scale(0.9862,1)" x="33.40 39.97" y="254.36" font-size="10.47" font-family="'Liberation Sans', sans-serif">20</text>
<line x1="50.3" y1="215.22" x2="53.85" y2="215.22" stroke="#000" stroke-width="0.87"/>
<text class="s" transform="scale(1.0041,1)" x="33.13 39.32" y="218.77" font-size="10.25" font-family="'Liberation Sans', sans-serif">40</text>
<line x1="50.3" y1="179.62" x2="53.85" y2="179.62" stroke="#000" stroke-width="0.87"/>
<text class="s" transform="scale(1.0213,1)" x="32.31 38.51" y="183.17" font-size="10.44" font-family="'Liberation Sans', sans-serif">60</text>
<line x1="50.3" y1="144.03" x2="53.85" y2="144.03" stroke="#000" stroke-width="0.87"/>
<text class="s" transform="scale(1.0094,1)" x="32.75 39.01" y="147.58" font-size="10.42" font-family="'Liberation Sans', sans-serif">80</text>
<line x1="50.3" y1="108.44" x2="53.85" y2="108.44" stroke="#000" stroke-width="0.87"/>
<text class="s" transform="scale(0.9900,1)" x="25.36 32.09 38.77" y="111.99" font-size="10.91" font-family="'Liberation Sans', sans-serif">100</text>
<line x1="50.3" y1="72.85" x2="53.85" y2="72.85" stroke="#000" stroke-width="0.87"/>
<text class="s" transform="scale(0.9776,1)" x="25.72 32.40 39.30" y="76.40" font-size="10.91" font-family="'Liberation Sans', sans-serif">120</text>
<line x1="50.3" y1="37.26" x2="53.85" y2="37.26" stroke="#000" stroke-width="0.87"/>
<text class="s" transform="scale(0.9903,1)" x="25.35 32.08 38.75" y="40.81" font-size="10.91" font-family="'Liberation Sans', sans-serif">140</text>
<line x1="113.4" y1="286.45" x2="113.4" y2="290.2" stroke="#000" stroke-width="0.87"/>
<text class="s" transform="scale(0.9374,1)" x="89.06 96.40 103.52 110.74 117.72 121.98 129.16 136.17 140.43 147.64" y="301.10" font-size="11.75" font-family="'Liberation Sans', sans-serif">2019-11-19</text>
<line x1="204.2" y1="286.45" x2="204.2" y2="290.2" stroke="#000" stroke-width="0.87"/>
<text class="s" transform="scale(0.9347,1)" x="185.52 192.87 200.02 207.26 214.26 218.53 225.74 232.76 236.94 244.30" y="301.10" font-size="11.75" font-family="'Liberation Sans', sans-serif">2019-11-20</text>
<line x1="294.4" y1="286.45" x2="294.4" y2="290.2" stroke="#000" stroke-width="0.87"/>
<text class="s" transform="scale(0.9300,1)" x="283.68 291.07 298.26 305.53 312.56 316.86 324.11 331.16 335.37 342.70" y="301.10" font-size="11.75" font-family="'Liberation Sans', sans-serif">2019-11-21</text>
<line x1="384.6" y1="286.45" x2="384.6" y2="290.2" stroke="#000" stroke-width="0.87"/>
<text class="s" transform="scale(0.9307,1)" x="379.82 387.21 394.39 401.66 408.68 412.98 420.22 427.26 431.47 438.71" y="301.10" font-size="11.75" font-family="'Liberation Sans', sans-serif">2019-11-22</text>
<line x1="474.8" y1="286.45" x2="474.8" y2="290.2" stroke="#000" stroke-width="0.87"/>
<text class="s" transform="scale(0.9303,1)" x="477.40 484.79 491.97 499.24 506.26 510.57 517.81 524.86 529.07 536.48" y="301.10" font-size="11.75" font-family="'Liberation Sans', sans-serif">2019-11-23</text>
<line x1="565.2" y1="286.45" x2="565.2" y2="290.2" stroke="#000" stroke-width="0.87"/>
<text class="s" transform="scale(0.9348,1)" x="570.30 577.66 584.81 592.04 599.04 603.31 610.52 617.54 621.73 629.08" y="301.10" font-size="11.75" font-family="'Liberation Sans', sans-serif">2019-11-24</text>
<line x1="655.3" y1="286.45" x2="655.3" y2="290.2" stroke="#000" stroke-width="0.87"/>
<text class="s" transform="scale(0.9285,1)" x="671.99 679.40 686.60 693.88 700.91 705.23 712.48 719.54 723.76 731.13" y="301.10" font-size="11.75" font-family="'Liberation Sans', sans-serif">2019-11-25</text>
<text class="s" transform="scale(1.0005,1)" x="332.81 345.95 358.10 364.53" y="323.00" font-size="18.67" font-family="'Liberation Sans', sans-serif">Date</text>
<text class="s" transform="translate(14.8,230.3) rotate(-90) scale(1.0037,1)" x="-2.13 10.55 22.31 27.50 28.50 45.48 51.71 64.32 70.99 71.99 87.77 96.03 113.99 131.43 137.69 149.78" y="0.00" font-size="19.43" font-family="'Liberation Sans', sans-serif">Rain rate (mm/h)</text>
<rect x="62.4" y="27.4" width="231.8" height="147" rx="2" fill="#fff" fill-opacity="0.8" stroke="#c9c9c9" stroke-width="1"/>
<line x1="68.5" y1="41.1" x2="100.5" y2="41.1" stroke="#333" stroke-width="2.0" stroke-dasharray="6 2.65"/>
<circle cx="85.5" cy="66.6" r="3.7" fill="#ff0000"/>
<line x1="67.6" y1="90.0" x2="102.1" y2="90.0" stroke="#151515" stroke-width="1.8"/>
<rect x="68.8" y="120.5" width="32.4" height="10.9" fill="#1f77b4"/>
<rect x="68.8" y="152.3" width="32.4" height="11.4" fill="#008000"/>
<text class="s" transform="scale(1.0338,1)" x="110.96 116.31 126.94 131.36 132.36 146.99 152.33 163.35 169.06 170.06 184.53 190.37 200.95 206.95 216.25 224.89 234.84 244.85 249.16" y="46.60" font-size="17.35" font-family="'Liberation Sans', sans-serif">rain rate threshold</text>
<text class="s" transform="scale(1.0267,1)" x="111.42 121.92 127.95 137.48 147.76 151.79 161.40 167.14 177.02 178.02 191.57 202.20 205.83 216.87 223.39" y="71.50" font-size="17.26" font-family="'Liberation Sans', sans-serif">predicted alarm</text>
<text class="s" transform="scale(1.0310,1)" x="111.21 125.55 136.19 145.54 150.27 165.36 175.84 176.84 196.46 201.78 212.35 216.75 217.75 232.30 237.61 248.57 254.26" y="95.80" font-size="17.21" font-family="'Liberation Sans', sans-serif">maximum rain rate</text>
<text class="s" transform="scale(1.0374,1)" x="110.57 120.54 129.60 139.45 149.86 150.86 160.44 169.89 178.56 187.57 198.05 204.53 210.17 219.68 229.27 238.20" y="120.60" font-size="17.18" font-family="'Liberation Sans', sans-serif">event occurrence</text>
<text class="s" transform="scale(1.0354,1)" x="109.98 116.62 129.60 134.37 140.14 141.14 155.62 161.40 171.38 181.47 191.39 201.39 211.69 217.45 226.42 232.02 242.31 248.72 263.21 272.17" y="139.40" font-size="17.20" font-family="'Liberation Sans', sans-serif">(with thunderstorms)</text>
<text class="s" transform="scale(1.0374,1)" x="110.57 120.54 129.60 139.45 149.86 150.86 160.44 169.89 178.56 187.57 198.05 204.53 210.17 219.68 229.27 238.20" y="164.00" font-size="17.18" font-family="'Liberation Sans', sans-serif">event occurrence</text>
</g>
<text x="254.2" y="752.45" font-size="13.6" textLength="18.71" lengthAdjust="spacingAndGlyphs" font-family="'Liberation Serif', serif">(b)</text>
<text x="279.79" y="752.45" font-size="13.6" textLength="100.34" lengthAdjust="spacingAndGlyphs" font-family="'Liberation Serif', serif">wTSS-ensemble</text>
<text x="384.23" y="752.45" font-size="13.6" textLength="5.06" lengthAdjust="spacingAndGlyphs" font-family="'Liberation Serif', serif">(</text>
<text x="389.26" y="752.45" font-size="13.6" textLength="6.82" lengthAdjust="spacingAndGlyphs" font-family="'Liberation Serif', serif" font-style="italic">k</text>
<line x1="401.3" x2="411.0" y1="746.9" y2="746.9" stroke="#000" stroke-width="0.75"/>
<line x1="401.3" x2="411.0" y1="750.5" y2="750.5" stroke="#000" stroke-width="0.75"/>
<text x="414.97" y="752.45" font-size="13.6" textLength="8.2" lengthAdjust="spacingAndGlyphs" font-family="'Liberation Serif', serif">9</text>
<text x="423.41" y="752.45" font-size="13.6" textLength="5.06" lengthAdjust="spacingAndGlyphs" font-family="'Liberation Serif', serif">)</text>
<g transform="translate(0,799.2)">
<text class="s" transform="scale(1.0090,1)" x="134.12 145.54 150.74 161.57 162.57 183.20 194.42 205.30 216.33 227.33 233.08 244.06 255.11 260.86 271.94 272.94 287.56 299.38 300.38 311.25 322.23 333.18 339.03 350.01 351.01 366.87 373.04 374.04 389.07 400.28 411.16 422.19 433.19 438.94 449.93 460.97 466.59 477.74 478.74 493.42 505.25 506.25 517.11 528.09 539.04 544.89 555.87" y="12.35" font-size="18.29" font-family="'Liberation Sans', sans-serif">From 2019/11/18 at 08:00 to 2019/11/25 at 00:00</text>
<g clip-path="url(#ax)">
<rect x="59" y="19.75" width="3.9" height="266.7" fill="#d4dbd4"/>
<rect x="137.9" y="19.75" width="7.8" height="266.7" fill="#d4dbd4"/>
<rect x="224.4" y="19.75" width="4.1" height="266.7" fill="#d4dbd4"/>
<rect x="295.8" y="19.75" width="11.1" height="266.7" fill="#d4dbd4"/>
<rect x="322" y="19.75" width="7.7" height="266.7" fill="#d4dbd4"/>
<rect x="359.3" y="19.75" width="7.7" height="266.7" fill="#d4dbd4"/>
<rect x="427.7" y="19.75" width="7.1" height="266.7" fill="#d4dbd4"/>
<rect x="445.9" y="19.75" width="3.7" height="266.7" fill="#d4dbd4"/>
<rect x="588.8" y="19.75" width="7.2" height="266.7" fill="#d4dbd4"/>
<rect x="126.51" y="197.42" width="3.76" height="88.98" fill="#008000"/>
<rect x="149.06" y="197.42" width="3.76" height="88.98" fill="#008000"/>
<rect x="336.93" y="197.42" width="3.76" height="88.98" fill="#008000"/>
<rect x="382.02" y="197.42" width="3.76" height="88.98" fill="#008000"/>
<rect x="408.32" y="197.42" width="7.51" height="88.98" fill="#008000"/>
<rect x="475.96" y="197.42" width="11.27" height="88.98" fill="#008000"/>
<rect x="494.75" y="197.42" width="3.76" height="88.98" fill="#008000"/>
<rect x="543.59" y="197.42" width="3.76" height="88.98" fill="#008000"/>
<rect x="385.78" y="197.42" width="7.51" height="88.98" fill="#1f77b4"/>
<rect x="423.35" y="197.42" width="3.76" height="88.98" fill="#1f77b4"/>
<line x1="53.6" y1="196.85" x2="655.5" y2="196.85" stroke="#333" stroke-width="2.0" stroke-dasharray="6 2.65"/>
<circle cx="57.97" cy="286.4" r="3.7" fill="#ff0000"/>
<circle cx="65.48" cy="286.4" r="3.7" fill="#ff0000"/>
<circle cx="69.24" cy="286.4" r="3.7" fill="#ff0000"/>
<circle cx="72.99" cy="286.4" r="3.7" fill="#ff0000"/>
<circle cx="76.75" cy="286.4" r="3.7" fill="#ff0000"/>
<circle cx="80.5" cy="286.4" r="3.7" fill="#ff0000"/>
<circle cx="84.26" cy="197" r="3.7" fill="#ff0000"/>
<circle cx="88.01" cy="197" r="3.7" fill="#ff0000"/>
<circle cx="91.77" cy="286.4" r="3.7" fill="#ff0000"/>
<circle cx="95.52" cy="197" r="3.7" fill="#ff0000"/>
<circle cx="99.27" cy="197" r="3.7" fill="#ff0000"/>
<circle cx="103.03" cy="197" r="3.7" fill="#ff0000"/>
<circle cx="106.78" cy="197" r="3.7" fill="#ff0000"/>
<circle cx="110.54" cy="197" r="3.7" fill="#ff0000"/>
<circle cx="114.29" cy="286.4" r="3.7" fill="#ff0000"/>
<circle cx="118.05" cy="286.4" r="3.7" fill="#ff0000"/>
<circle cx="121.8" cy="286.4" r="3.7" fill="#ff0000"/>
<circle cx="125.56" cy="286.4" r="3.7" fill="#ff0000"/>
<circle cx="129.31" cy="286.4" r="3.7" fill="#ff0000"/>
<circle cx="133.06" cy="286.4" r="3.7" fill="#ff0000"/>
<circle cx="136.82" cy="286.4" r="3.7" fill="#ff0000"/>
<circle cx="148.08" cy="286.4" r="3.7" fill="#ff0000"/>
<circle cx="151.84" cy="286.4" r="3.7" fill="#ff0000"/>
<circle cx="155.59" cy="286.4" r="3.7" fill="#ff0000"/>
<circle cx="159.35" cy="286.4" r="3.7" fill="#ff0000"/>
<circle cx="163.1" cy="286.4" r="3.7" fill="#ff0000"/>
<circle cx="166.86" cy="286.4" r="3.7" fill="#ff0000"/>
<circle cx="170.61" cy="286.4" r="3.7" fill="#ff0000"/>
<circle cx="174.36" cy="286.4" r="3.7" fill="#ff0000"/>
<circle cx="178.12" cy="286.4" r="3.7" fill="#ff0000"/>
<circle cx="181.87" cy="286.4" r="3.7" fill="#ff0000"/>
<circle cx="185.63" cy="286.4" r="3.7" fill="#ff0000"/>
<circle cx="189.38" cy="286.4" r="3.7" fill="#ff0000"/>
<circle cx="193.14" cy="286.4" r="3.7" fill="#ff0000"/>
<circle cx="196.89" cy="286.4" r="3.7" fill="#ff0000"/>
<circle cx="200.65" cy="286.4" r="3.7" fill="#ff0000"/>
<circle cx="204.4" cy="286.4" r="3.7" fill="#ff0000"/>
<circle cx="208.15" cy="286.4" r="3.7" fill="#ff0000"/>
<circle cx="211.91" cy="286.4" r="3.7" fill="#ff0000"/>
<circle cx="215.66" cy="286.4" r="3.7" fill="#ff0000"/>
<circle cx="219.42" cy="286.4" r="3.7" fill="#ff0000"/>
<circle cx="223.17" cy="286.4" r="3.7" fill="#ff0000"/>
<circle cx="230.68" cy="286.4" r="3.7" fill="#ff0000"/>
<circle cx="234.44" cy="286.4" r="3.7" fill="#ff0000"/>
<circle cx="238.19" cy="286.4" r="3.7" fill="#ff0000"/>
<circle cx="241.95" cy="286.4" r="3.7" fill="#ff0000"/>
<circle cx="245.7" cy="286.4" r="3.7" fill="#ff0000"/>
<circle cx="249.45" cy="286.4" r="3.7" fill="#ff0000"/>
<circle cx="253.21" cy="286.4" r="3.7" fill="#ff0000"/>
<circle cx="256.96" cy="286.4" r="3.7" fill="#ff0000"/>
<circle cx="260.72" cy="286.4" r="3.7" fill="#ff0000"/>
<circle cx="264.47" cy="286.4" r="3.7" fill="#ff0000"/>
<circle cx="268.23" cy="286.4" r="3.7" fill="#ff0000"/>
<circle cx="271.98" cy="286.4" r="3.7" fill="#ff0000"/>
<circle cx="275.74" cy="286.4" r="3.7" fill="#ff0000"/>
<circle cx="279.49" cy="286.4" r="3.7" fill="#ff0000"/>
<circle cx="283.24" cy="286.4" r="3.7" fill="#ff0000"/>
<circle cx="287" cy="286.4" r="3.7" fill="#ff0000"/>
<circle cx="290.75" cy="286.4" r="3.7" fill="#ff0000"/>
<circle cx="294.51" cy="286.4" r="3.7" fill="#ff0000"/>
<circle cx="309.53" cy="286.4" r="3.7" fill="#ff0000"/>
<circle cx="313.28" cy="286.4" r="3.7" fill="#ff0000"/>
<circle cx="317.03" cy="286.4" r="3.7" fill="#ff0000"/>
<circle cx="320.79" cy="286.4" r="3.7" fill="#ff0000"/>
<circle cx="332.05" cy="286.4" r="3.7" fill="#ff0000"/>
<circle cx="335.81" cy="286.4" r="3.7" fill="#ff0000"/>
<circle cx="339.56" cy="286.4" r="3.7" fill="#ff0000"/>
<circle cx="343.32" cy="286.4" r="3.7" fill="#ff0000"/>
<circle cx="347.07" cy="286.4" r="3.7" fill="#ff0000"/>
<circle cx="350.83" cy="286.4" r="3.7" fill="#ff0000"/>
<circle cx="354.58" cy="286.4" r="3.7" fill="#ff0000"/>
<circle cx="358.33" cy="286.4" r="3.7" fill="#ff0000"/>
<circle cx="369.6" cy="286.4" r="3.7" fill="#ff0000"/>
<circle cx="373.35" cy="286.4" r="3.7" fill="#ff0000"/>
<circle cx="377.11" cy="286.4" r="3.7" fill="#ff0000"/>
<circle cx="380.86" cy="286.4" r="3.7" fill="#ff0000"/>
<circle cx="384.62" cy="286.4" r="3.7" fill="#ff0000"/>
<circle cx="388.37" cy="197" r="3.7" fill="#ff0000"/>
<circle cx="392.12" cy="197" r="3.7" fill="#ff0000"/>
<circle cx="395.88" cy="197" r="3.7" fill="#ff0000"/>
<circle cx="399.63" cy="286.4" r="3.7" fill="#ff0000"/>
<circle cx="403.39" cy="197" r="3.7" fill="#ff0000"/>
<circle cx="407.14" cy="286.4" r="3.7" fill="#ff0000"/>
<circle cx="410.9" cy="286.4" r="3.7" fill="#ff0000"/>
<circle cx="414.65" cy="286.4" r="3.7" fill="#ff0000"/>
<circle cx="418.41" cy="286.4" r="3.7" fill="#ff0000"/>
<circle cx="422.16" cy="286.4" r="3.7" fill="#ff0000"/>
<circle cx="425.92" cy="286.4" r="3.7" fill="#ff0000"/>
<circle cx="437.18" cy="286.4" r="3.7" fill="#ff0000"/>
<circle cx="440.93" cy="286.4" r="3.7" fill="#ff0000"/>
<circle cx="444.69" cy="286.4" r="3.7" fill="#ff0000"/>
<circle cx="452.2" cy="286.4" r="3.7" fill="#ff0000"/>
<circle cx="455.95" cy="286.4" r="3.7" fill="#ff0000"/>
<circle cx="459.71" cy="286.4" r="3.7" fill="#ff0000"/>
<circle cx="463.46" cy="286.4" r="3.7" fill="#ff0000"/>
<circle cx="467.22" cy="286.4" r="3.7" fill="#ff0000"/>
<circle cx="470.97" cy="286.4" r="3.7" fill="#ff0000"/>
<circle cx="474.72" cy="286.4" r="3.7" fill="#ff0000"/>
<circle cx="478.48" cy="286.4" r="3.7" fill="#ff0000"/>
<circle cx="482.23" cy="286.4" r="3.7" fill="#ff0000"/>
<circle cx="485.99" cy="286.4" r="3.7" fill="#ff0000"/>
<circle cx="489.74" cy="286.4" r="3.7" fill="#ff0000"/>
<circle cx="493.5" cy="286.4" r="3.7" fill="#ff0000"/>
<circle cx="497.25" cy="286.4" r="3.7" fill="#ff0000"/>
<circle cx="501.01" cy="286.4" r="3.7" fill="#ff0000"/>
<circle cx="504.76" cy="197" r="3.7" fill="#ff0000"/>
<circle cx="508.51" cy="197" r="3.7" fill="#ff0000"/>
<circle cx="512.27" cy="197" r="3.7" fill="#ff0000"/>
<circle cx="516.02" cy="286.4" r="3.7" fill="#ff0000"/>
<circle cx="519.78" cy="197" r="3.7" fill="#ff0000"/>
<circle cx="523.53" cy="286.4" r="3.7" fill="#ff0000"/>
<circle cx="527.29" cy="286.4" r="3.7" fill="#ff0000"/>
<circle cx="531.04" cy="286.4" r="3.7" fill="#ff0000"/>
<circle cx="534.8" cy="286.4" r="3.7" fill="#ff0000"/>
<circle cx="538.55" cy="286.4" r="3.7" fill="#ff0000"/>
<circle cx="542.31" cy="197" r="3.7" fill="#ff0000"/>
<circle cx="546.06" cy="286.4" r="3.7" fill="#ff0000"/>
<circle cx="549.81" cy="286.4" r="3.7" fill="#ff0000"/>
<circle cx="553.57" cy="286.4" r="3.7" fill="#ff0000"/>
<circle cx="557.32" cy="286.4" r="3.7" fill="#ff0000"/>
<circle cx="561.08" cy="286.4" r="3.7" fill="#ff0000"/>
<circle cx="564.83" cy="286.4" r="3.7" fill="#ff0000"/>
<circle cx="568.59" cy="197" r="3.7" fill="#ff0000"/>
<circle cx="572.34" cy="197" r="3.7" fill="#ff0000"/>
<circle cx="576.1" cy="286.4" r="3.7" fill="#ff0000"/>
<circle cx="579.85" cy="286.4" r="3.7" fill="#ff0000"/>
<circle cx="583.6" cy="286.4" r="3.7" fill="#ff0000"/>
<circle cx="587.36" cy="286.4" r="3.7" fill="#ff0000"/>
<circle cx="598.62" cy="286.4" r="3.7" fill="#ff0000"/>
<circle cx="602.38" cy="286.4" r="3.7" fill="#ff0000"/>
<circle cx="606.13" cy="286.4" r="3.7" fill="#ff0000"/>
<circle cx="609.89" cy="286.4" r="3.7" fill="#ff0000"/>
<circle cx="613.64" cy="286.4" r="3.7" fill="#ff0000"/>
<circle cx="617.4" cy="286.4" r="3.7" fill="#ff0000"/>
<circle cx="621.15" cy="286.4" r="3.7" fill="#ff0000"/>
<circle cx="624.9" cy="286.4" r="3.7" fill="#ff0000"/>
<circle cx="628.66" cy="286.4" r="3.7" fill="#ff0000"/>
<circle cx="632.41" cy="286.4" r="3.7" fill="#ff0000"/>
<circle cx="636.17" cy="286.4" r="3.7" fill="#ff0000"/>
<circle cx="639.92" cy="286.4" r="3.7" fill="#ff0000"/>
<circle cx="643.68" cy="286.4" r="3.7" fill="#ff0000"/>
<circle cx="647.43" cy="286.4" r="3.7" fill="#ff0000"/>
<circle cx="651.19" cy="286.4" r="3.7" fill="#ff0000"/>
<circle cx="654.94" cy="286.4" r="3.7" fill="#ff0000"/>
<polyline points="57,281.6 64.51,258.6 68.27,257.1 72.03,257.4 75.78,258.8 79.54,259.4 83.3,252.4 87.06,235.5 90.81,248.9 94.57,247.1 98.33,245.4 102.09,250.1 105.84,254.8 109.6,250.1 113.36,239.5 117.12,245.5 120.88,240.3 124.63,230.8 128.39,187.5 132.15,227.5 135.91,226.1 147.18,209 150.94,193.7 154.69,211.8 158.45,199 162.21,204.2 165.97,206.6 169.72,234.7 173.48,238.5 177.24,239.9 181,245.2 184.75,254.7 188.51,254.2 192.27,265.2 196.03,269 199.78,269.9 203.54,267.5 207.3,262.8 211.06,275.6 214.81,276.1 218.57,272.8 222.33,278.5 229.84,278 233.6,277.5 237.36,272.8 241.12,268 244.87,265 248.63,269.9 252.39,260.9 256.14,269.4 259.9,275.2 263.66,270.7 267.42,268.2 271.18,250.9 274.93,273.3 278.69,270.4 282.45,269.4 286.2,266.6 289.96,268.8 293.72,267.5 308.75,279.4 312.51,274.7 316.26,269.4 320.02,246.1 331.3,256.4 335.05,218.5 338.81,42.2 342.57,197.5 346.32,225.2 350.08,248 353.84,217.5 357.6,202.8 368.87,210.9 372.63,227.1 376.38,251.9 380.14,234.6 383.9,108 387.66,128.1 391.42,175.4 395.17,192.4 398.93,209 402.69,226.3 406.44,220.9 410.2,176 413.96,138.4 417.72,187.9 421.47,225.5 425.23,158.8 436.5,196.8 440.26,236.4 444.02,226.8 451.53,240.5 455.29,242.6 459.05,232.9 462.81,230.8 466.56,248.8 470.32,248.1 474.08,221.9 477.84,174.7 481.59,156.2 485.35,143.8 489.11,237.8 492.87,219.1 496.62,163.9 500.38,235.4 504.14,237.2 507.9,232 511.65,205.3 515.41,213.8 519.17,233.3 522.93,223.5 526.68,224.6 530.44,216.4 534.2,177 537.96,233.3 541.71,213.1 545.47,155 549.23,207.9 552.99,231.4 556.75,243.7 560.5,228 564.26,212 568.02,231.8 571.77,239 575.53,222.8 579.29,220.9 583.05,253.3 586.8,248 598.08,261.8 601.84,262.1 605.59,266.6 609.35,266.6 613.11,267.8 616.87,269.2 620.62,257.1 624.38,261.8 628.14,253.7 631.89,266.6 635.65,274.7 639.41,276.4 643.17,277.1 646.92,276.8 650.68,271.8 654.44,267.5" fill="none" stroke="#1c1c1c" stroke-width="1.65" stroke-linejoin="round"/>
<path d="M426.1,125.2 V150 M419.7,144.3 L426.1,150.4 L432.6,144.2" fill="none" stroke="#0000ff" stroke-width="3.0" stroke-linecap="round" stroke-linejoin="round"/>
</g>
<path d="M53.85,19.25 V286.95 M655.5,19.25 V286.95 M53.35,19.75 H656 M53.35,286.45 H656" fill="none" stroke="#2b2b2b" stroke-width="1.0"/>
<line x1="50.3" y1="286.4" x2="53.85" y2="286.4" stroke="#000" stroke-width="0.87"/>
<text class="s" transform="scale(1.0041,1)" x="39.29" y="289.95" font-size="11.46" font-family="'Liberation Sans', sans-serif">0</text>
<line x1="50.3" y1="250.81" x2="53.85" y2="250.81" stroke="#000" stroke-width="0.87"/>
<text class="s" transform="scale(0.9862,1)" x="33.40 39.97" y="254.36" font-size="10.47" font-family="'Liberation Sans', sans-serif">20</text>
<line x1="50.3" y1="215.22" x2="53.85" y2="215.22" stroke="#000" stroke-width="0.87"/>
<text class="s" transform="scale(1.0041,1)" x="33.13 39.32" y="218.77" font-size="10.25" font-family="'Liberation Sans', sans-serif">40</text>
<line x1="50.3" y1="179.62" x2="53.85" y2="179.62" stroke="#000" stroke-width="0.87"/>
<text class="s" transform="scale(1.0213,1)" x="32.31 38.51" y="183.17" font-size="10.44" font-family="'Liberation Sans', sans-serif">60</text>
<line x1="50.3" y1="144.03" x2="53.85" y2="144.03" stroke="#000" stroke-width="0.87"/>
<text class="s" transform="scale(1.0094,1)" x="32.75 39.01" y="147.58" font-size="10.42" font-family="'Liberation Sans', sans-serif">80</text>
<line x1="50.3" y1="108.44" x2="53.85" y2="108.44" stroke="#000" stroke-width="0.87"/>
<text class="s" transform="scale(0.9900,1)" x="25.36 32.09 38.77" y="111.99" font-size="10.91" font-family="'Liberation Sans', sans-serif">100</text>
<line x1="50.3" y1="72.85" x2="53.85" y2="72.85" stroke="#000" stroke-width="0.87"/>
<text class="s" transform="scale(0.9776,1)" x="25.72 32.40 39.30" y="76.40" font-size="10.91" font-family="'Liberation Sans', sans-serif">120</text>
<line x1="50.3" y1="37.26" x2="53.85" y2="37.26" stroke="#000" stroke-width="0.87"/>
<text class="s" transform="scale(0.9903,1)" x="25.35 32.08 38.75" y="40.81" font-size="10.91" font-family="'Liberation Sans', sans-serif">140</text>
<line x1="113.4" y1="286.45" x2="113.4" y2="290.2" stroke="#000" stroke-width="0.87"/>
<text class="s" transform="scale(0.9374,1)" x="89.06 96.40 103.52 110.74 117.72 121.98 129.16 136.17 140.43 147.64" y="301.10" font-size="11.75" font-family="'Liberation Sans', sans-serif">2019-11-19</text>
<line x1="204.2" y1="286.45" x2="204.2" y2="290.2" stroke="#000" stroke-width="0.87"/>
<text class="s" transform="scale(0.9347,1)" x="185.52 192.87 200.02 207.26 214.26 218.53 225.74 232.76 236.94 244.30" y="301.10" font-size="11.75" font-family="'Liberation Sans', sans-serif">2019-11-20</text>
<line x1="294.4" y1="286.45" x2="294.4" y2="290.2" stroke="#000" stroke-width="0.87"/>
<text class="s" transform="scale(0.9300,1)" x="283.68 291.07 298.26 305.53 312.56 316.86 324.11 331.16 335.37 342.70" y="301.10" font-size="11.75" font-family="'Liberation Sans', sans-serif">2019-11-21</text>
<line x1="384.6" y1="286.45" x2="384.6" y2="290.2" stroke="#000" stroke-width="0.87"/>
<text class="s" transform="scale(0.9307,1)" x="379.82 387.21 394.39 401.66 408.68 412.98 420.22 427.26 431.47 438.71" y="301.10" font-size="11.75" font-family="'Liberation Sans', sans-serif">2019-11-22</text>
<line x1="474.8" y1="286.45" x2="474.8" y2="290.2" stroke="#000" stroke-width="0.87"/>
<text class="s" transform="scale(0.9303,1)" x="477.40 484.79 491.97 499.24 506.26 510.57 517.81 524.86 529.07 536.48" y="301.10" font-size="11.75" font-family="'Liberation Sans', sans-serif">2019-11-23</text>
<line x1="565.2" y1="286.45" x2="565.2" y2="290.2" stroke="#000" stroke-width="0.87"/>
<text class="s" transform="scale(0.9348,1)" x="570.30 577.66 584.81 592.04 599.04 603.31 610.52 617.54 621.73 629.08" y="301.10" font-size="11.75" font-family="'Liberation Sans', sans-serif">2019-11-24</text>
<line x1="655.3" y1="286.45" x2="655.3" y2="290.2" stroke="#000" stroke-width="0.87"/>
<text class="s" transform="scale(0.9285,1)" x="671.99 679.40 686.60 693.88 700.91 705.23 712.48 719.54 723.76 731.13" y="301.10" font-size="11.75" font-family="'Liberation Sans', sans-serif">2019-11-25</text>
<text class="s" transform="scale(1.0005,1)" x="332.81 345.95 358.10 364.53" y="323.00" font-size="18.67" font-family="'Liberation Sans', sans-serif">Date</text>
<text class="s" transform="translate(14.8,230.3) rotate(-90) scale(1.0037,1)" x="-2.13 10.55 22.31 27.50 28.50 45.48 51.71 64.32 70.99 71.99 87.77 96.03 113.99 131.43 137.69 149.78" y="0.00" font-size="19.43" font-family="'Liberation Sans', sans-serif">Rain rate (mm/h)</text>
<rect x="62.4" y="27.4" width="231.8" height="147" rx="2" fill="#fff" fill-opacity="0.8" stroke="#c9c9c9" stroke-width="1"/>
<line x1="68.5" y1="41.1" x2="100.5" y2="41.1" stroke="#333" stroke-width="2.0" stroke-dasharray="6 2.65"/>
<circle cx="85.5" cy="66.6" r="3.7" fill="#ff0000"/>
<line x1="67.6" y1="90.0" x2="102.1" y2="90.0" stroke="#151515" stroke-width="1.8"/>
<rect x="68.8" y="120.5" width="32.4" height="10.9" fill="#1f77b4"/>
<rect x="68.8" y="152.3" width="32.4" height="11.4" fill="#008000"/>
<text class="s" transform="scale(1.0338,1)" x="110.96 116.31 126.94 131.36 132.36 146.99 152.33 163.35 169.06 170.06 184.53 190.37 200.95 206.95 216.25 224.89 234.84 244.85 249.16" y="46.60" font-size="17.35" font-family="'Liberation Sans', sans-serif">rain rate threshold</text>
<text class="s" transform="scale(1.0267,1)" x="111.42 121.92 127.95 137.48 147.76 151.79 161.40 167.14 177.02 178.02 191.57 202.20 205.83 216.87 223.39" y="71.50" font-size="17.26" font-family="'Liberation Sans', sans-serif">predicted alarm</text>
<text class="s" transform="scale(1.0310,1)" x="111.21 125.55 136.19 145.54 150.27 165.36 175.84 176.84 196.46 201.78 212.35 216.75 217.75 232.30 237.61 248.57 254.26" y="95.80" font-size="17.21" font-family="'Liberation Sans', sans-serif">maximum rain rate</text>
<text class="s" transform="scale(1.0374,1)" x="110.57 120.54 129.60 139.45 149.86 150.86 160.44 169.89 178.56 187.57 198.05 204.53 210.17 219.68 229.27 238.20" y="120.60" font-size="17.18" font-family="'Liberation Sans', sans-serif">event occurrence</text>
<text class="s" transform="scale(1.0354,1)" x="109.98 116.62 129.60 134.37 140.14 141.14 155.62 161.40 171.38 181.47 191.39 201.39 211.69 217.45 226.42 232.02 242.31 248.72 263.21 272.17" y="139.40" font-size="17.20" font-family="'Liberation Sans', sans-serif">(with thunderstorms)</text>
<text class="s" transform="scale(1.0374,1)" x="110.57 120.54 129.60 139.45 149.86 150.86 160.44 169.89 178.56 187.57 198.05 204.53 210.17 219.68 229.27 238.20" y="164.00" font-size="17.18" font-family="'Liberation Sans', sans-serif">event occurrence</text>
</g>
<text x="254.81" y="1151.9" font-size="13.6" textLength="17.38" lengthAdjust="spacingAndGlyphs" font-family="'Liberation Serif', serif">(c)</text>
<text x="278.32" y="1151.9" font-size="13.6" textLength="90.82" lengthAdjust="spacingAndGlyphs" font-family="'Liberation Serif', serif">TSS-ensemble</text>
<text x="372.45" y="1151.9" font-size="13.6" textLength="4.93" lengthAdjust="spacingAndGlyphs" font-family="'Liberation Serif', serif">(</text>
<text x="377.47" y="1151.9" font-size="13.6" textLength="6.71" lengthAdjust="spacingAndGlyphs" font-family="'Liberation Serif', serif" font-style="italic">k</text>
<line x1="389.0" x2="398.7" y1="1146.35" y2="1146.35" stroke="#000" stroke-width="0.75"/>
<line x1="389.0" x2="398.7" y1="1149.95" y2="1149.95" stroke="#000" stroke-width="0.75"/>
<text x="402.2" y="1151.9" font-size="13.6" textLength="17.05" lengthAdjust="spacingAndGlyphs" font-family="'Liberation Serif', serif">10</text>
<text x="419.01" y="1151.9" font-size="13.6" textLength="5.06" lengthAdjust="spacingAndGlyphs" font-family="'Liberation Serif', serif">)</text>
</g></svg>
</body></html>
